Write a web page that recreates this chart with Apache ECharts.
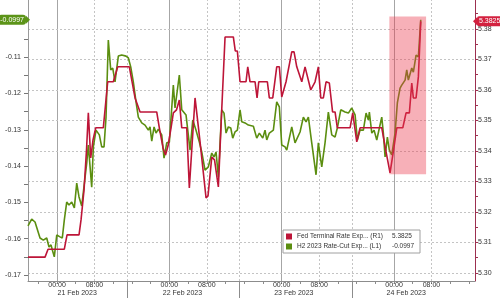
<!DOCTYPE html>
<html>
<head>
<meta charset="utf-8">
<script src="https://cdn.jsdelivr.net/npm/echarts@6/dist/echarts.min.js"></script>
<style>
html,body{margin:0;padding:0;background:#fff;}
#chart{width:500px;height:298px;}
</style>
</head>
<body>
<div id="chart"></div>
<script>
// ---- data (x = hours since 21 Feb 2023 00:00) ----
const fedName = 'Fed Terminal Rate Exp... (R1)';
const cutName = 'H2 2023 Rate-Cut Exp... (L1)';

const fedHours = [-6.2,-2.56,-1.92,1.56,2.14,4.70,5.13,5.77,6.30,6.69,
  7.20,7.69,8.27,9.89,10.83,12.03,12.97,15.45,16.67,17.74,
  21.30,21.86,22.65,23.18,23.72,24.36,24.85,25.53,26.13,26.65,
  27.71,28.27,29.49,30.56,31.13,31.84,32.26,33.06,33.65,34.47,
  35.19,35.90,37.67,38.08,38.53,39.10,40.38,40.75,41.24,42.31,
  42.74,43.10,44.94,45.36,46.09,46.94,47.50,48.01,48.93,50.15,
  50.64,51.22,52.29,52.99,54.21,55.13,55.83,56.35,56.90,57.48,
  58.18,58.87,59.40,59.89,62.61,63.18,64.04,64.74,69.38,70.30,
  71.15,71.90,72.59,73.87,74.57,75.28,75.79,76.13,76.71,77.20,77.71];
const fedValues = [5.3052,5.3052,5.3078,5.3078,5.3125,5.3125,5.3174,5.3272,5.3403,5.3525,
  5.3377,5.3436,5.3476,5.3476,5.3627,5.3627,5.3676,5.3676,5.3574,5.3528,
  5.3528,5.3476,5.3410,5.3387,5.3417,5.3476,5.3525,5.3535,5.3567,5.3476,
  5.3476,5.3279,5.3574,5.3430,5.3348,5.3246,5.3253,5.3380,5.3371,5.3282,
  5.3535,5.3774,5.3774,5.3728,5.3728,5.3627,5.3627,5.3676,5.3627,5.3627,
  5.3574,5.3627,5.3627,5.3574,5.3574,5.3676,5.3676,5.3577,5.3627,5.3725,
  5.3725,5.3676,5.3627,5.3676,5.3600,5.3627,5.3676,5.3574,5.3574,5.3627,
  5.3623,5.3528,5.3528,5.3476,5.3476,5.3525,5.3430,5.3476,5.3476,5.3397,
  5.3328,5.3403,5.3476,5.3476,5.3525,5.3525,5.3623,5.3574,5.3574,5.3643,5.3825];

const cutHours = [-6.20,-5.41,-4.70,-3.63,-2.93,-2.20,-1.71,-1.28,-1.00,-0.58,
  -0.06,0.64,1.13,1.56,2.07,2.56,3.14,3.70,4.21,4.70,
  5.28,5.62,6.35,6.69,7.41,7.76,8.33,9.04,9.55,10.04,
  10.47,10.96,11.47,11.90,12.39,13.10,13.82,14.74,15.24,15.75,
  16.30,16.88,17.37,18.10,18.80,19.51,19.87,20.24,20.73,21.15,
  21.65,22.37,22.86,23.44,24.00,24.85,25.21,26.13,26.65,27.56,
  28.42,29.00,29.70,30.41,30.92,31.62,32.33,33.06,33.55,33.97,
  34.47,35.19,35.68,36.11,36.60,37.12,37.54,38.03,38.53,39.10,
  39.47,40.17,40.88,41.95,42.31,42.67,43.23,43.95,44.44,44.81,
  45.36,46.22,46.58,46.94,47.50,48.01,48.72,49.08,50.15,50.85,
  51.92,52.63,53.21,53.70,54.42,55.34,55.83,56.56,57.26,57.97,
  58.70,59.40,59.89,60.62,61.04,61.54,62.24,62.97,63.68,64.17,
  64.74,65.45,66.03,66.52,66.73,67.25,67.74,68.31,68.87,69.38,
  69.72,70.09,70.58,71.00,71.52,72.22,72.71,73.29,73.65,74.36,
  74.72,75.06,75.79,76.13,76.71,77.20,77.71];
const cutValues = [-0.1565,-0.1546,-0.1554,-0.1598,-0.1604,-0.1598,-0.1623,-0.1617,-0.1631,-0.1650,
  -0.1590,-0.1595,-0.1598,-0.1548,-0.1499,-0.1507,-0.1499,-0.1515,-0.1447,-0.1485,
  -0.1510,-0.1507,-0.1391,-0.1342,-0.1458,-0.1347,-0.1301,-0.1314,-0.1347,-0.1347,
  -0.1265,-0.1053,-0.1135,-0.1130,-0.1168,-0.1097,-0.1094,-0.1097,-0.1102,-0.1127,
  -0.1168,-0.1223,-0.1265,-0.1281,-0.1287,-0.1301,-0.1292,-0.1331,-0.1292,-0.1309,
  -0.1298,-0.1314,-0.1378,-0.1336,-0.1334,-0.1177,-0.1240,-0.1149,-0.1245,-0.1259,
  -0.1356,-0.1273,-0.1301,-0.1334,-0.1361,-0.1411,-0.1402,-0.1364,-0.1375,-0.1361,
  -0.1430,-0.1245,-0.1254,-0.1309,-0.1292,-0.1295,-0.1323,-0.1306,-0.1301,-0.1245,
  -0.1278,-0.1281,-0.1287,-0.1290,-0.1287,-0.1323,-0.1309,-0.1323,-0.1301,-0.1328,
  -0.1309,-0.1301,-0.1301,-0.1223,-0.1237,-0.1342,-0.1347,-0.1356,-0.1292,-0.1336,
  -0.1306,-0.1265,-0.1278,-0.1265,-0.1336,-0.1424,-0.1336,-0.1402,-0.1336,-0.1251,
  -0.1314,-0.1320,-0.1295,-0.1245,-0.1240,-0.1251,-0.1254,-0.1240,-0.1259,-0.1328,
  -0.1301,-0.1301,-0.1254,-0.1273,-0.1251,-0.1309,-0.1301,-0.1328,-0.1295,-0.1265,
  -0.1309,-0.1375,-0.1320,-0.1356,-0.1369,-0.1309,-0.1226,-0.1185,-0.1177,-0.1163,
  -0.1135,-0.1163,-0.1130,-0.1141,-0.1094,-0.1099,-0.0997];

// axis ticks / labels
const xTickHours = [0, 8, 24, 32, 48, 56, 72, 80];
const xTickLabels = ['00:00','08:00','00:00','08:00','00:00','08:00','00:00','08:00'];
const xMinorTickHours = [-4,0,4,8,12,16,20,24,28,32,36,40,44,48,52,56,60,64,68,72,76,80,84,88];
const dayStartHours = [0, 24, 48, 72];
const eightHours = [8, 32, 56, 80];
const dayBoundaryHours = [15, 39, 63];
const dateLabelHours = [4.3, 26.8, 50.6, 74.6];
const dateLabels = ['21 Feb 2023','22 Feb 2023','23 Feb 2023','24 Feb 2023'];
const leftTicks = [-0.17,-0.16,-0.15,-0.14,-0.13,-0.12,-0.11];
const leftMinorTicks = [-0.165,-0.155,-0.145,-0.135,-0.125,-0.115,-0.105];
const rightTicks = [5.30,5.31,5.32,5.33,5.34,5.35,5.36,5.37,5.38];
const rightMinorTicks = [5.305,5.315,5.325,5.335,5.345,5.355,5.365,5.375,5.385];
const highlightHours = [71.0, 78.85];
const highlightRight = [5.3324, 5.3841];

// ---- chart ----
const FONT = '"Liberation Sans", Arial, sans-serif';
const RED = '#bd1538';
const GREEN = '#5b8e10';
const X_MIN = -6.2, X_MAX = 89.3;
const lastFed = fedValues[fedValues.length - 1];
const lastCut = cutValues[cutValues.length - 1];
const fedData = fedHours.map((h, i) => [h, fedValues[i]]);
const cutData = cutHours.map((h, i) => [h, cutValues[i]]);
const near = (a, b) => Math.abs(a - b) < 1e-6;

const DOTTED = { color: '#c4c4c4', width: 1, type: [2, 2] };
const vLines = []
  .concat(dayStartHours.map(h => ({ xAxis: h, lineStyle: { color: '#a6a6a6', width: 1, type: 'solid' } })))
  .concat(eightHours.concat(dayBoundaryHours).map(h => ({ xAxis: h, lineStyle: DOTTED })));
const hLines = rightTicks.map(v => ({ yAxis: v }));

const chart = echarts.init(document.getElementById('chart'), null, { renderer: 'canvas' });
const option = {
  animation: false,
  backgroundColor: '#fff',
  textStyle: { fontFamily: FONT },
  grid: { left: 28, right: 25, top: 0, bottom: 17, containLabel: false },
  xAxis: [
    {
      type: 'value', min: X_MIN, max: X_MAX, position: 'bottom',
      axisLine: { show: true, onZero: false, lineStyle: { color: '#8c8c8c', width: 1 } },
      axisTick: { show: true, length: 3, inside: false, customValues: xMinorTickHours, lineStyle: { color: '#8c8c8c' } },
      axisLabel: {
        show: true, customValues: xTickHours, margin: 1, fontSize: 7, color: '#333', fontFamily: FONT,
        formatter: v => { const i = xTickHours.findIndex(t => near(t, v)); return i >= 0 ? xTickLabels[i] : ''; }
      },
      splitLine: { show: false }
    },
    {
      type: 'value', min: X_MIN, max: X_MAX, position: 'bottom',
      axisLine: { show: false, onZero: false },
      axisTick: { show: true, length: 17, inside: false, customValues: dayBoundaryHours, lineStyle: { color: '#8c8c8c' } },
      axisLabel: {
        show: true, customValues: dateLabelHours, margin: 9, fontSize: 7, color: '#333', fontFamily: FONT,
        formatter: v => { const i = dateLabelHours.findIndex(t => near(t, v)); return i >= 0 ? dateLabels[i] : ''; }
      },
      splitLine: { show: false }
    }
  ],
  yAxis: [
    {
      type: 'value', position: 'left', min: -0.171653, max: -0.094242,
      axisLine: { show: true, onZero: false, lineStyle: { color: '#9a9a9a' } },
      axisTick: { show: true, length: 4, customValues: leftTicks.concat(leftMinorTicks), lineStyle: { color: '#777' } },
      axisLabel: { show: true, customValues: leftTicks, margin: 7, fontSize: 7, color: '#333', fontFamily: FONT,
        formatter: v => v.toFixed(2) },
      splitLine: { show: false }
    },
    {
      type: 'value', position: 'right', min: 5.297377, max: 5.389508,
      axisLine: { show: true, onZero: false, lineStyle: { color: '#9c3050' } },
      axisTick: { show: true, length: 3, customValues: rightTicks.concat(rightMinorTicks), lineStyle: { color: '#9c3050' } },
      axisLabel: { show: true, customValues: rightTicks, margin: 3, fontSize: 7, color: '#333', fontFamily: FONT,
        formatter: v => v.toFixed(2) },
      splitLine: { show: false }
    }
  ],
  legend: {
    data: [fedName, cutName],
    orient: 'vertical', left: 283, top: 230,
    backgroundColor: '#fff', borderColor: '#a0a0a0', borderWidth: 1, borderRadius: 0,
    padding: [2, 4, 2, 3], itemGap: 1, itemWidth: 6, itemHeight: 6, icon: 'rect',
    selectedMode: false,
    textStyle: {
      fontSize: 6.5, color: '#333', fontFamily: FONT, lineHeight: 9,
      rich: { n: { width: 95, fontSize: 6.5, fontFamily: FONT, color: '#333' }, v: { width: 24, fontSize: 6.5, fontFamily: FONT, color: '#333' } }
    },
    formatter: name => `{n|${name}}{v|${name === fedName ? lastFed.toFixed(4) : lastCut.toFixed(4)}}`
  },
  series: [
    {
      name: 'gridV', type: 'line', data: [], xAxisIndex: 0, yAxisIndex: 1, silent: true, z: 0,
      markLine: { silent: true, symbol: 'none', z: 0, animation: false, label: { show: false }, data: vLines }
    },
    {
      name: 'gridH', type: 'line', data: [], xAxisIndex: 0, yAxisIndex: 1, silent: true, z: 0,
      markLine: { silent: true, symbol: 'none', z: 0, animation: false, label: { show: false }, lineStyle: DOTTED, data: hLines }
    },
    {
      name: cutName, type: 'line', data: cutData, xAxisIndex: 0, yAxisIndex: 0,
      showSymbol: false, symbol: 'none', color: GREEN, lineStyle: { color: GREEN, width: 1.6 }, z: 3,
      markPoint: {
        silent: true, z: 8, animation: false,
        symbol: 'triangle', symbolRotate: -90, symbolSize: [8, 4], itemStyle: { color: '#5c9418' },
        label: { show: true, position: 'left', distance: 0, formatter: lastCut.toFixed(4), color: '#fff',
          backgroundColor: '#5c9418', padding: [2, 2, 1, 2], borderRadius: 3, fontSize: 7, fontFamily: FONT },
        data: [{ coord: [X_MIN, lastCut] }]
      }
    },
    {
      name: fedName, type: 'line', data: fedData, xAxisIndex: 0, yAxisIndex: 1,
      showSymbol: false, symbol: 'none', color: RED, lineStyle: { color: RED, width: 1.6 }, z: 4,
      markPoint: {
        silent: true, z: 8, animation: false,
        symbol: 'triangle', symbolRotate: 90, symbolSize: [8, 4], itemStyle: { color: '#d3213f' },
        label: { show: true, position: 'right', distance: 0, formatter: lastFed.toFixed(4), color: '#fff',
          backgroundColor: '#d3213f', padding: [2, 2, 1, 2], borderRadius: 2, fontSize: 7, fontFamily: FONT },
        data: [{ coord: [X_MAX, lastFed] }]
      }
    },
    {
      name: 'highlight', type: 'line', data: [], xAxisIndex: 0, yAxisIndex: 1, silent: true, z: 6,
      markArea: {
        silent: true, z: 6,
        itemStyle: { color: 'rgba(236,58,78,0.40)' },
        data: [[{ xAxis: highlightHours[0], yAxis: highlightRight[1] }, { xAxis: highlightHours[1], yAxis: highlightRight[0] }]]
      }
    }
  ]
};
chart.setOption(option);
</script>
</body>
</html>
